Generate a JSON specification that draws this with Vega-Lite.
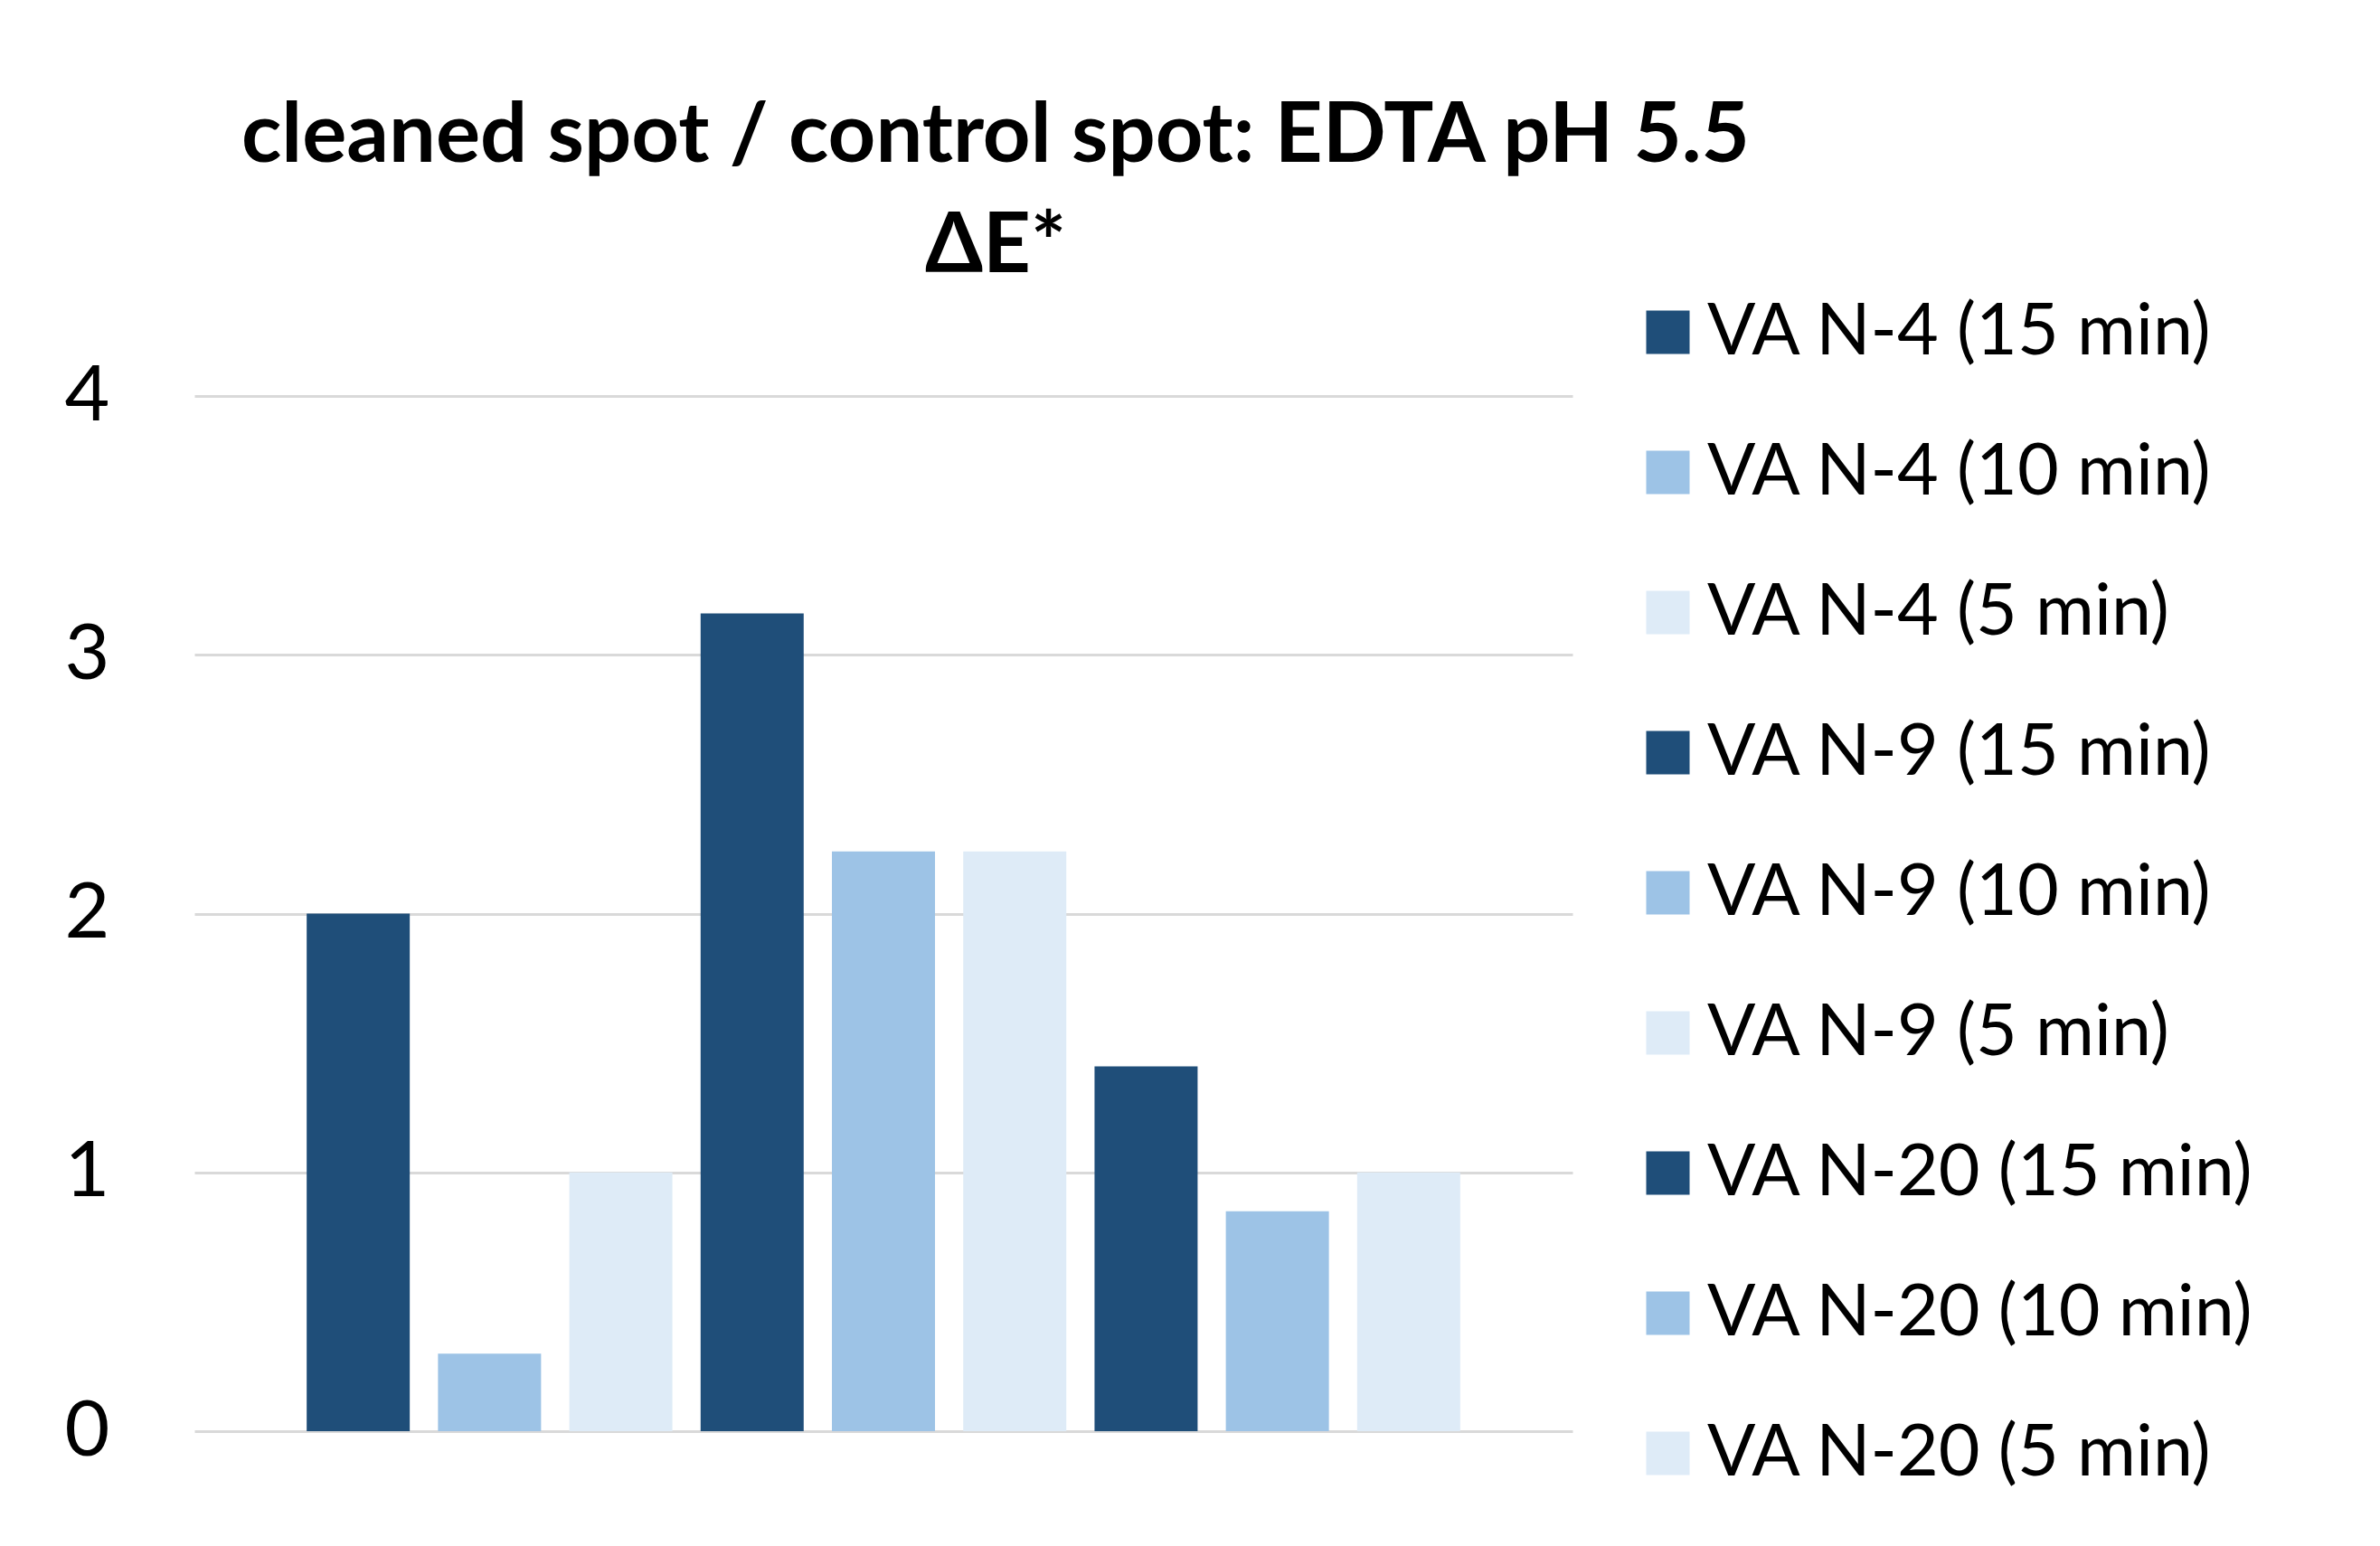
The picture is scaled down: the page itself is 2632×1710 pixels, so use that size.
{
  "$schema": "https://vega.github.io/schema/vega-lite/v6.json",
  "autosize": {"type": "none"},
  "width": 1524,
  "height": 1145,
  "padding": {"left": 215, "top": 438, "right": 893, "bottom": 127},
  "background": "white",
  "title": {
    "text": ["cleaned spot / control spot: EDTA pH 5.5", "ΔE*"],
    "font": "Lato",
    "fontSize": 92,
    "fontWeight": "bold",
    "color": "#000000",
    "anchor": "middle",
    "frame": "group",
    "dx": 124,
    "lineHeight": 122,
    "offset": 8
  },
  "data": {
    "values": [
      {"series": "VA N-4 (15 min)", "dE": 2.0},
      {"series": "VA N-4 (10 min)", "dE": 0.3},
      {"series": "VA N-4 (5 min)", "dE": 1.0},
      {"series": "VA N-9 (15 min)", "dE": 3.16},
      {"series": "VA N-9 (10 min)", "dE": 2.24},
      {"series": "VA N-9 (5 min)", "dE": 2.24},
      {"series": "VA N-20 (15 min)", "dE": 1.41},
      {"series": "VA N-20 (10 min)", "dE": 0.85},
      {"series": "VA N-20 (5 min)", "dE": 1.0}
    ]
  },
  "mark": {"type": "bar"},
  "encoding": {
    "x": {
      "field": "series",
      "type": "nominal",
      "sort": null,
      "scale": {"paddingInner": 0.215, "paddingOuter": 0.855},
      "axis": null
    },
    "y": {
      "field": "dE",
      "type": "quantitative",
      "scale": {"domain": [0, 4], "nice": false},
      "axis": {
        "values": [0, 1, 2, 3, 4],
        "title": null,
        "domain": false,
        "ticks": false,
        "grid": true,
        "gridColor": "#d9d9d9",
        "gridWidth": 3,
        "labelFont": "Lato",
        "labelFontSize": 86,
        "labelColor": "#000000",
        "labelPadding": 94
      }
    },
    "color": {
      "field": "series",
      "type": "nominal",
      "sort": null,
      "scale": {
        "domain": ["VA N-4 (15 min)", "VA N-4 (10 min)", "VA N-4 (5 min)", "VA N-9 (15 min)", "VA N-9 (10 min)", "VA N-9 (5 min)", "VA N-20 (15 min)", "VA N-20 (10 min)", "VA N-20 (5 min)"],
        "range": ["#1f4e79", "#9dc3e6", "#deebf7", "#1f4e79", "#9dc3e6", "#deebf7", "#1f4e79", "#9dc3e6", "#deebf7"]
      },
      "legend": {
        "orient": "none",
        "legendX": 1590,
        "legendY": -110,
        "title": null,
        "symbolType": "square",
        "symbolSize": 2304,
        "symbolStrokeWidth": 0,
        "labelFont": "Lato",
        "labelFontSize": 79,
        "labelColor": "#000000",
        "labelOffset": 4,
        "rowPadding": 75,
        "labelLimit": 800
      }
    }
  },
  "config": {"view": {"stroke": null}}
}
